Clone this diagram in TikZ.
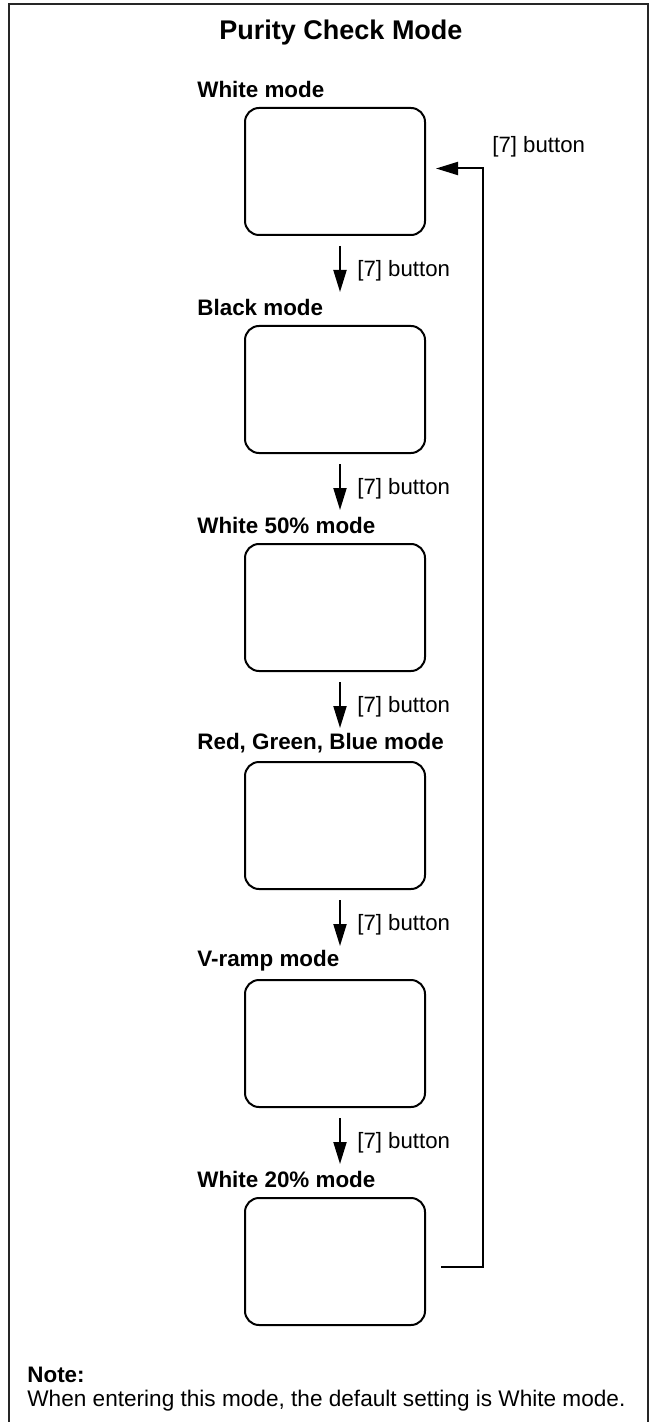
\documentclass[tikz,border=0pt]{standalone}
\usepackage{fontspec}
\setmainfont{Liberation Sans}
\usetikzlibrary{calc,arrows.meta}

\begin{document}
\begin{tikzpicture}[%
x=0.5pt, y=-0.5pt,
modebox/.style={draw, line width=1pt, rounded corners=7pt, minimum width=90pt, minimum height=63.5pt, inner sep=0pt},
modelabel/.style={anchor=west, inner sep=0pt, font=\fontsize{11.2}{13}\selectfont\bfseries},
btnlabel/.style={anchor=west, inner sep=0pt, font=\fontsize{11.1}{13}\selectfont},
flow/.style={line width=1pt, -{Triangle[length=11pt,width=6.5pt]}},
]
\useasboundingbox (0,0) rectangle (655,1422);
%% frame;
\draw [line width=1pt, color=black!85] (9,1422) -- (9,4) -- (648,4) -- (648,1422);
%% title;
\node (title) at (341,33) {\fontsize{13.5}{16}\selectfont\bfseries Purity Check Mode};
%% boxes;
\node [modebox] (box1) at (335,171.5) {};
\node [modebox] (box2) at (335,389.5) {};
\node [modebox] (box3) at (335,607.5) {};
\node [modebox] (box4) at (335,825.5) {};
\node [modebox] (box5) at (335,1043.5) {};
\node [modebox] (box6) at (335,1261.5) {};
%% mode labels;
\node [modelabel] (lab1) at (197,89) {White mode};
\node [modelabel] (lab2) at (197,307) {Black mode};
\node [modelabel] (lab3) at (197,525) {White 50\% mode};
\node [modelabel] (lab4) at (197,743) {Red, Green, Blue mode};
\node [modelabel] (lab5) at (197,961) {V-ramp mode};
\node [modelabel] (lab6) at (197,1179) {White 20\% mode};
%% arrows;
\draw [flow] ($(box1.south)+(5,10)$) -- ($(box2.north)+(5,-33)$);
\draw [flow] ($(box2.south)+(5,10)$) -- ($(box3.north)+(5,-33)$);
\draw [flow] ($(box3.south)+(5,10)$) -- ($(box4.north)+(5,-33)$);
\draw [flow] ($(box4.south)+(5,10)$) -- ($(box5.north)+(5,-33)$);
\draw [flow] ($(box5.south)+(5,10)$) -- ($(box6.north)+(5,-33)$);
%% button labels;
\node [btnlabel] (btn1) at ($(box1.south)+(22,35)$) {[7] button};
\node [btnlabel] (btn2) at ($(box2.south)+(22,35)$) {[7] button};
\node [btnlabel] (btn3) at ($(box3.south)+(22,35)$) {[7] button};
\node [btnlabel] (btn4) at ($(box4.south)+(22,35)$) {[7] button};
\node [btnlabel] (btn5) at ($(box5.south)+(22,35)$) {[7] button};
%% back to white mode;
\coordinate (fbstart) at ($(box6.east)+(15,5)$);
\coordinate (fbcorner) at ($(box1.east)+(57,-3)$);
\coordinate (fbend) at ($(box1.east)+(10,-3)$);
\draw [flow] (fbstart) -| (fbcorner) -- (fbend);
\node [btnlabel] (btn6) at (492,147) {[7] button};
%% note;
\node [anchor=west, inner sep=0pt, font=\fontsize{11.2}{13}\selectfont\bfseries] (notehead) at (27,1375) {Note:};
\node [anchor=west, inner sep=0pt, font=\fontsize{11.3}{13}\selectfont] (notetext) at (27,1401) {When entering this mode, the default setting is White mode.};
\end{tikzpicture}
\end{document}
